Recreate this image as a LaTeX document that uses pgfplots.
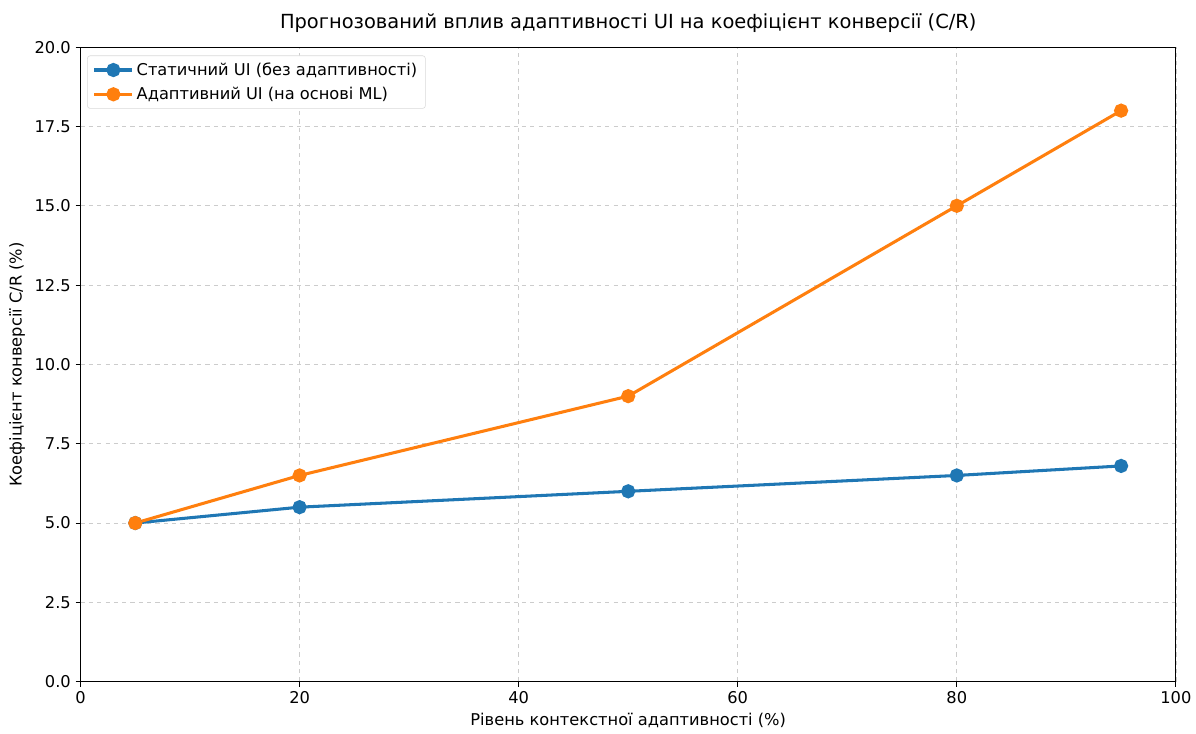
\documentclass[border=0pt]{standalone}
\usepackage{pgfplots}
\pgfplotsset{compat=1.18}
\usepackage{fontspec}
\setmainfont{DejaVu Sans}
\definecolor{mplblue}{HTML}{1F77B4}
\definecolor{mplorange}{HTML}{FF7F0E}
\begin{document}
\begin{tikzpicture}
\begin{axis}[
  scale only axis,
  width=789pt, height=457pt,
  xmin=0, xmax=100, ymin=0, ymax=20,
  xtick={0,20,40,60,80,100},
  ytick={0,2.5,5,7.5,10,12.5,15,17.5,20},
  yticklabel style={/pgf/number format/.cd,fixed,fixed zerofill,precision=1},
  /pgf/number format/assume math mode=true,
  tick pos=left,
  tick label style={font=\fontsize{11.7}{14}\selectfont},
  label style={font=\fontsize{11.7}{14}\selectfont},
  title style={font=\fontsize{14}{16}\selectfont, yshift=1pt},
  title={Прогнозований вплив адаптивності UI на коефіцієнт конверсії (C/R)},
  xlabel={Рівень контекстної адаптивності (\%)},
  ylabel={Коефіцієнт конверсії C/R (\%)},
  grid=major,
  major grid style={dashed, gray!40, line width=0.5pt},
  tick align=outside,
  tick style={black, line width=0.7pt},
  major tick length=3.5pt,
  axis line style={line width=0.8pt},
  legend style={font=\fontsize{11.7}{14}\selectfont, draw=gray!30, rounded corners=2pt, at={(0.006,0.987)}, anchor=north west, inner xsep=4pt, inner ysep=3pt, row sep=3pt},
  legend cell align=left,
  legend image code/.code={\draw[mark repeat=2,mark phase=2] plot coordinates {(0cm,0cm) (0.48cm,0cm) (0.96cm,0cm)};},
]
\addplot[mplblue, line width=2.2pt, mark=*, mark size=4pt, mark options={solid}] coordinates {
(5,5.0) (20,5.5) (50,6.0) (80,6.5) (95,6.8)};
\addlegendentry{Статичний UI (без адаптивності)}
\addplot[mplorange, line width=2.2pt, mark=*, mark size=4pt, mark options={solid}] coordinates {
(5,5.0) (20,6.5) (50,9.0) (80,15.0) (95,18.0)};
\addlegendentry{Адаптивний UI (на основі ML)}
\end{axis}
\path (current axis.south west) ++(-58pt,-37pt) coordinate (bl);
\path (current axis.north east) ++(14pt,34pt) coordinate (tr);
\path[use as bounding box] (bl) rectangle (tr);
\end{tikzpicture}
\end{document}
